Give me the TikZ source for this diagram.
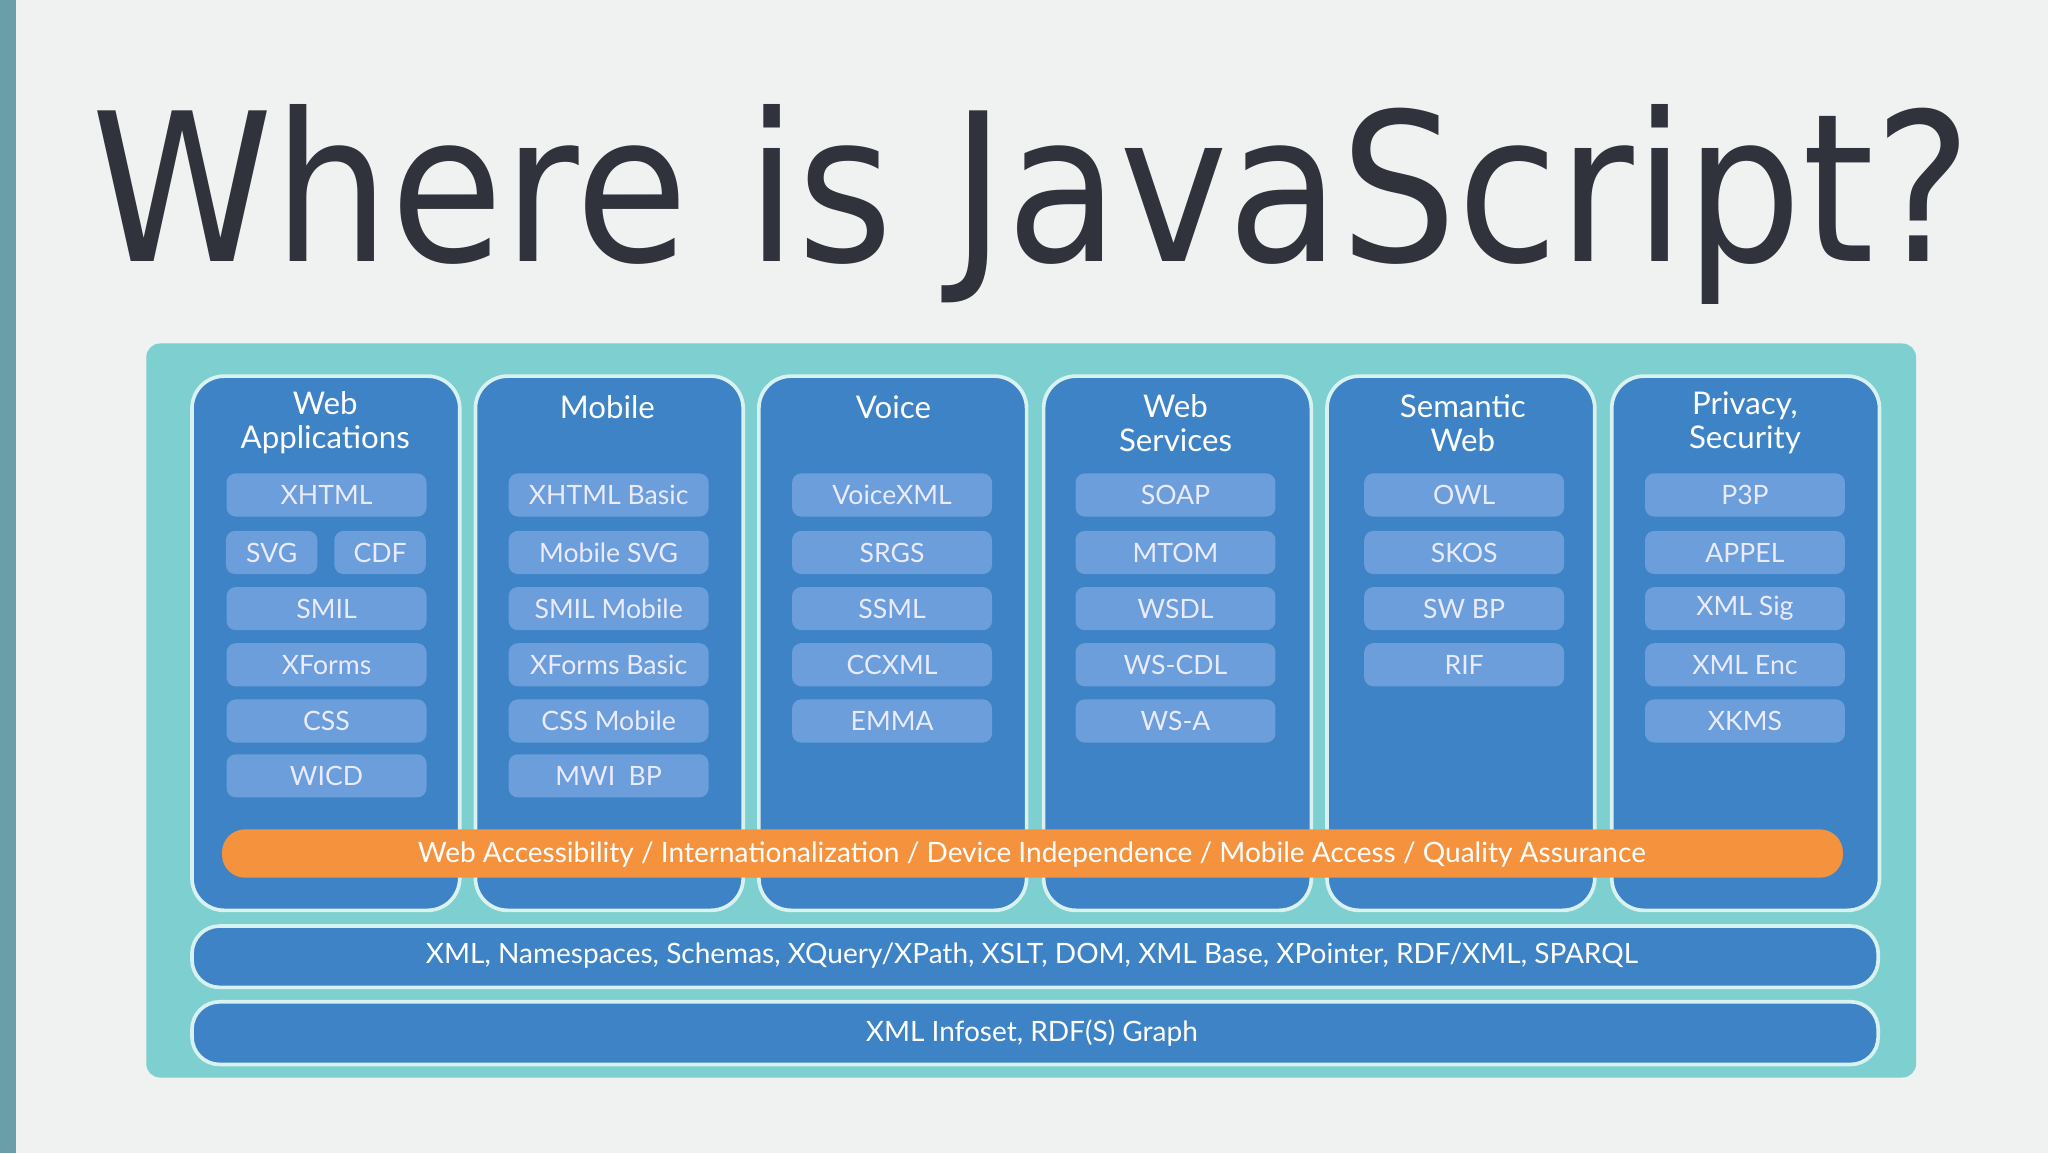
\documentclass[tikz,border=0pt]{standalone}
\usepackage{fontspec}
\setmainfont{Lato}
\newfontfamily\titlefont{DejaVu Sans}
\definecolor{bg}{HTML}{F0F1F1}
\definecolor{sidebar}{HTML}{6A9FAA}
\definecolor{teal}{HTML}{7ECFCF}
\definecolor{colblue}{HTML}{3E83C6}
\definecolor{itemblue}{HTML}{6B9EDB}
\definecolor{orangebar}{HTML}{F5923E}
\definecolor{titlecol}{HTML}{30333B}
\begin{document}
\begin{tikzpicture}[x=0.01cm,y=-0.01cm,
  col/.style={draw=white!70!teal,line width=0.8pt,fill=colblue,rounded corners=7pt},
  item/.style={fill=itemblue,rounded corners=2pt,minimum width=1.53cm,minimum height=0.33cm,text=white!92!blue,font=\fontsize{5.8}{5.8}\selectfont,inner sep=0pt},
  hdr/.style={text=white,font=\fontsize{6.8}{7.4}\selectfont,align=center},
  bar/.style={draw=white!70!teal,line width=0.8pt,fill=colblue,rounded corners=6pt},
  bartext/.style={text=white,font=\fontsize{6.1}{6.1}\selectfont}]
\fill[bg] (0,0) rectangle (1568,883);
\useasboundingbox (0,0) rectangle (1568,883);
\fill[sidebar] (0,0) rectangle (12,883);
\node[anchor=base,text=titlecol,font=\titlefont\fontsize{45}{45}\selectfont,inner sep=0,xscale=0.89] (title) at (790,200) {Where is JavaScript?};
\fill[teal,rounded corners=3pt] (112,825) -- (112,263) -- (1467,263) -- (1467,825) -- cycle;
\foreach \x/\n in {147/c1,364/c2,581/c3,799/c4,1016/c5,1234/c6}{
  \draw[col] (\x,288) rectangle (\x+205,697);
}
\node[hdr] (h1) at (249,324) {Web\\Applications};
\node[hdr] (h2) at (465,312) {Mobile};
\node[hdr] (h3) at (684,312) {Voice};
\node[hdr] (h4) at (900,324) {Web\\Services};
\node[hdr] (h5) at (1120,324) {Semantic\\Web};
\node[hdr] (h6) at (1336,324) {Privacy,\\Security};
\node[item] (a1) at (250,379) {XHTML};
\node[item,minimum width=0.70cm] (a2) at (208,423) {SVG};
\node[item,minimum width=0.70cm] (a3) at (291,423) {CDF};
\foreach \t/\y [count=\i] in {SMIL/466,XForms/509,CSS/552,WICD/594}
  \node[item] (a\i b) at (250,\y) {\t};
\foreach \t/\y [count=\i] in {XHTML Basic/379,Mobile SVG/423,SMIL Mobile/466,XForms Basic/509,CSS Mobile/552,MWI\enspace BP/594}
  \node[item] (b\i) at (466,\y) {\t};
\foreach \t/\y [count=\i] in {VoiceXML/379,SRGS/423,SSML/466,CCXML/509,EMMA/552}
  \node[item] (c\i) at (683,\y) {\t};
\foreach \t/\y [count=\i] in {SOAP/379,MTOM/423,WSDL/466,WS-CDL/509,WS-A/552}
  \node[item] (d\i) at (900,\y) {\t};
\foreach \t/\y [count=\i] in {OWL/379,SKOS/423,SW BP/466,RIF/509}
  \node[item] (e\i) at (1121,\y) {\t};
\foreach \t/\y [count=\i] in {P3P/379,APPEL/423,XML Sig/466,XML Enc/509,XKMS/552}
  \node[item] (f\i) at (1336,\y) {\t};
\fill[orangebar,rounded corners=5pt] (170,635) rectangle (1411,672);
\node[bartext] (ob) at (790,654) {Web Accessibility / Internationalization / Device Independence / Mobile Access / Quality Assurance};
\draw[bar] (147,709) rectangle (1438,756);
\node[bartext] (x1) at (790,732) {XML, Namespaces, Schemas, XQuery/XPath, XSLT, DOM, XML Base, XPointer, RDF/XML, SPARQL};
\draw[bar] (147,767) rectangle (1438,815);
\node[bartext] (x2) at (790,791) {XML Infoset, RDF(S) Graph};
\end{tikzpicture}
\end{document}
